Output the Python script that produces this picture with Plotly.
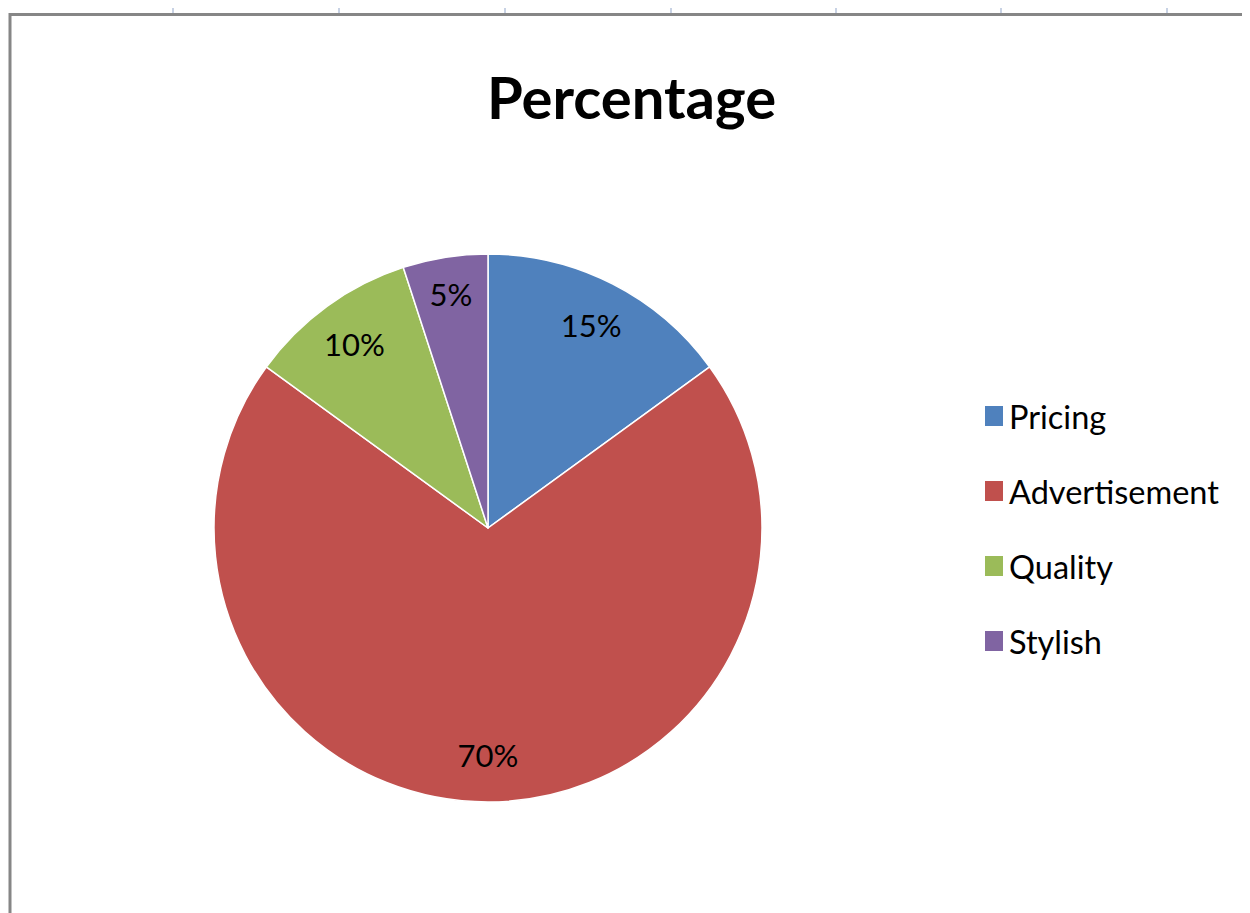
import plotly.graph_objects as go

categories = ["Pricing", "Advertisement", "Quality", "Stylish"]
values = [15, 70, 10, 5]
colors = ["#4F81BD", "#C0504D", "#9BBB59", "#8064A2"]
title_text = "Percentage"

OFF = 8  # page body margin
W, H = 1250 - OFF, 913 - OFF
FONT = "Lato, 'Open Sans', sans-serif"

def px(x):
    return (x - OFF) / W

def py(y):
    return 1 - (y - OFF) / H

fig = go.Figure()

cx, cy, r = 488, 528, 274
dom = dict(x=[px(cx - r), px(cx + r)], y=[py(cy + r), py(cy - r)])

# filled pie
fig.add_trace(go.Pie(
    labels=categories,
    values=values,
    sort=False,
    direction="clockwise",
    rotation=0,
    marker=dict(colors=colors, line=dict(color="white", width=1.5)),
    textinfo="none",
    showlegend=False,
    hoverinfo="label+percent",
    domain=dom,
))
# transparent ring carrying the percentage labels (places them toward the rim)
fig.add_trace(go.Pie(
    labels=categories,
    values=values,
    sort=False,
    direction="clockwise",
    rotation=0,
    hole=0.66,
    marker=dict(colors=["rgba(0,0,0,0)"] * len(values), line=dict(width=0)),
    texttemplate="%{percent:.0%}",
    textposition="inside",
    insidetextorientation="horizontal",
    textfont=dict(family=FONT, size=31, color="black"),
    showlegend=False,
    hoverinfo="skip",
    domain=dom,
))

shapes = []
annotations = []

# legend
lx, ly0, step = 985, 416, 75
for i, (cat, col) in enumerate(zip(categories, colors)):
    yc = ly0 + i * step
    shapes.append(dict(type="rect", xref="paper", yref="paper",
                       x0=px(lx), x1=px(lx + 18), y0=py(yc + 10), y1=py(yc - 10),
                       fillcolor=col, line=dict(width=0)))
    annotations.append(dict(text=cat, xref="paper", yref="paper",
                            x=px(lx + 22), y=py(yc), xanchor="left", yanchor="middle",
                            showarrow=False, font=dict(family=FONT, size=32.5, color="black")))

# spreadsheet decorations
grid_col = "#C8D2E4"
for gx in [173, 339, 505, 671, 836, 1001, 1167]:
    shapes.append(dict(type="line", xref="paper", yref="paper", x0=px(gx), x1=px(gx), y0=py(8), y1=py(13),
                       line=dict(color=grid_col, width=2)))
# chart border
shapes.append(dict(type="line", xref="paper", yref="paper", x0=px(10), x1=px(10), y0=0, y1=py(13),
                   line=dict(color="#868686", width=3)))
shapes.append(dict(type="line", xref="paper", yref="paper", x0=px(9), x1=1, y0=py(14.5), y1=py(14.5),
                   line=dict(color="#868686", width=3)))

annotations.append(dict(text="<b>" + title_text + "</b>", xref="paper", yref="paper",
                        x=px(631), y=py(96), xanchor="center", yanchor="middle",
                        showarrow=False, font=dict(family=FONT, size=58, color="black")))

fig.update_layout(
    width=W, height=H,
    margin=dict(l=0, r=0, t=0, b=0),
    paper_bgcolor="white",
    plot_bgcolor="white",
    shapes=shapes,
    annotations=annotations,
    uniformtext=dict(minsize=31, mode="show"),
)

fig.write_html("out.html")
